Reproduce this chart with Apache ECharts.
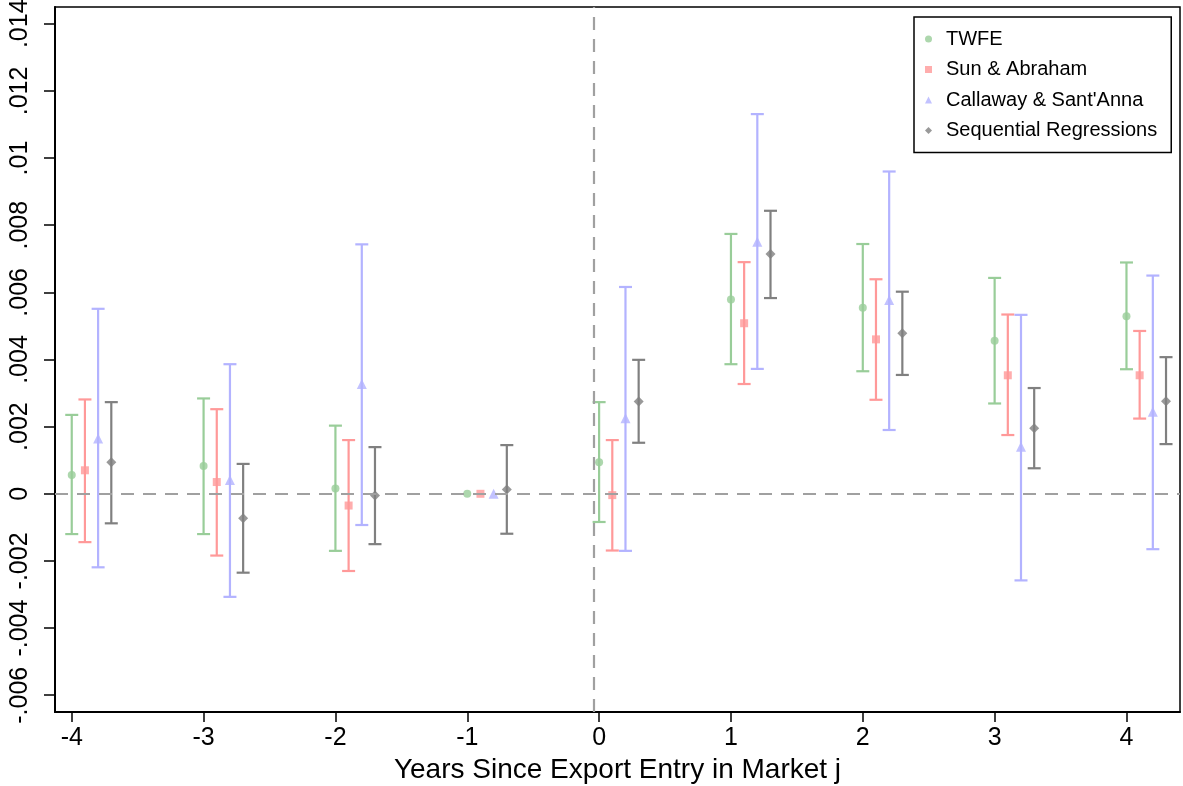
<!DOCTYPE html>
<html>
<head>
<meta charset="utf-8">
<script src="https://cdn.jsdelivr.net/npm/echarts@6/dist/echarts.min.js"></script>
<style>
html,body{margin:0;padding:0;background:#fff;}
#chart{width:1183px;height:786px;}
</style>
</head>
<body>
<div id="chart"></div>
<script>
// ---- data ----
const events = [-4, -3, -2, -1, 0, 1, 2, 3, 4];
const yTicks = [-0.006, -0.004, -0.002, 0, 0.002, 0.004, 0.006, 0.008, 0.01, 0.012, 0.014];

const twfe   = [0.00056, 0.00083, 0.00016, 0, 0.00094, 0.00579, 0.00554, 0.00456, 0.00529];
const twfeLo = [-0.0012, -0.0012, -0.0017, null, -0.00084, 0.00386, 0.00365, 0.00269, 0.00371];
const twfeHi = [0.00235, 0.00284, 0.00203, null, 0.00273, 0.00774, 0.00744, 0.00643, 0.00689];

const sa   = [0.0007, 0.00035, -0.00035, 0, -0.00004, 0.00508, 0.0046, 0.00353, 0.00353];
const saLo = [-0.00144, -0.00184, -0.0023, null, -0.00169, 0.00327, 0.0028, 0.00175, 0.00224];
const saHi = [0.00281, 0.00252, 0.0016, null, 0.0016, 0.0069, 0.00639, 0.00534, 0.00485];

const cs   = [0.00165, 0.00041, 0.00327, 0, 0.00225, 0.00751, 0.00577, 0.0014, 0.00244];
const csLo = [-0.00219, -0.00307, -0.00093, null, -0.0017, 0.00372, 0.0019, -0.00258, -0.00165];
const csHi = [0.00551, 0.00386, 0.00743, null, 0.00616, 0.01131, 0.0096, 0.00533, 0.0065];

const seq   = [0.00094, -0.00073, -0.00005, 0.00013, 0.00275, 0.00714, 0.00478, 0.00195, 0.00276];
const seqLo = [-0.00088, -0.00235, -0.0015, -0.00119, 0.00152, 0.00583, 0.00354, 0.00076, 0.00148];
const seqHi = [0.00273, 0.00089, 0.00139, 0.00145, 0.00399, 0.00843, 0.00602, 0.00315, 0.00407];

const methods = [
  {name: 'TWFE', est: twfe, lo: twfeLo, hi: twfeHi, off: 0, color: '#99cd99', symbol: 'circle', size: 8},
  {name: 'Sun & Abraham', est: sa, lo: saLo, hi: saHi, off: 0.1, color: '#ff9999', symbol: 'rect', size: 8},
  {name: "Callaway & Sant'Anna", est: cs, lo: csLo, hi: csHi, off: 0.2, color: '#b3b3ff', symbol: 'triangle', size: 10},
  {name: 'Sequential Regressions', est: seq, lo: seqLo, hi: seqHi, off: 0.3, color: '#808080', symbol: 'diamond', size: 10}
];

const FONT = 'Liberation Sans, Arial, sans-serif';

function yFmt(v) {
  if (Math.abs(v) < 1e-12) return '0';
  const s = parseFloat(Math.abs(v).toFixed(4)).toString().replace(/^0/, '');
  return (v < 0 ? '-' : '') + s;
}

const series = [];
// reference dashed lines
series.push({
  type: 'line', data: [], silent: true, z: 1,
  markLine: {
    silent: true, symbol: ['none', 'none'], label: {show: false},
    lineStyle: {color: '#a0a0a0', width: 2.2, type: [13, 9]},
    data: [{yAxis: 0}, {xAxis: -0.035}]
  }
});

methods.forEach(m => {
  const barData = [];
  events.forEach((e, i) => {
    if (m.lo[i] != null && m.hi[i] != null) barData.push([e + m.off, m.lo[i], m.hi[i]]);
  });
  series.push({
    type: 'custom', name: m.name + ' CI', silent: true, z: 2,
    data: barData,
    encode: {x: 0, y: [1, 2]},
    renderItem: function (params, api) {
      const x = api.value(0);
      const p1 = api.coord([x, api.value(1)]);
      const p2 = api.coord([x, api.value(2)]);
      const w = 6.5;
      const st = {stroke: m.color, lineWidth: 2.2};
      return {type: 'group', children: [
        {type: 'line', shape: {x1: p1[0], y1: p1[1], x2: p2[0], y2: p2[1]}, style: st},
        {type: 'line', shape: {x1: p1[0] - w, y1: p1[1], x2: p1[0] + w, y2: p1[1]}, style: st},
        {type: 'line', shape: {x1: p2[0] - w, y1: p2[1], x2: p2[0] + w, y2: p2[1]}, style: st}
      ]};
    }
  });
  series.push({
    type: 'scatter', name: m.name, z: 3,
    symbol: m.symbol, symbolSize: m.size,
    itemStyle: {color: m.color},
    data: events.map((e, i) => [e + m.off, m.est[i]])
  });
});

const chart = echarts.init(document.getElementById('chart'), null, {renderer: 'canvas'});
chart.setOption({
  animation: false,
  backgroundColor: '#fff',
  grid: {left: 55, right: 3, top: 7, bottom: 74, show: true, borderColor: '#000', borderWidth: 1.5,
    backgroundColor: 'transparent', outerBoundsMode: 'none', containLabel: false},
  legend: {
    orient: 'vertical', left: 914, top: 17,
    data: methods.map(m => ({name: m.name, icon: m.symbol})),
    itemWidth: 7, itemHeight: 7, itemGap: 10.5,
    padding: [12, 14, 12, 11],
    borderColor: '#000', borderWidth: 1.5, backgroundColor: '#fff',
    textStyle: {fontFamily: FONT, fontSize: 20, color: '#000', lineHeight: 20, padding: [0, 0, 0, 9]}
  },
  xAxis: {
    type: 'value', min: -4.127, max: 4.406,
    name: 'Years Since Export Entry in Market j', nameLocation: 'middle', nameGap: 40,
    nameTextStyle: {fontFamily: FONT, fontSize: 28, color: '#000', verticalAlign: 'top'},
    splitLine: {show: false},
    axisLine: {onZero: false, lineStyle: {color: '#000', width: 2}},
    axisTick: {customValues: events, length: 10, lineStyle: {color: '#000', width: 1.5}},
    axisLabel: {customValues: events, fontFamily: FONT, fontSize: 25, color: '#000', margin: 14,
      formatter: v => String(Math.round(v))}
  },
  yAxis: {
    type: 'value', min: -0.0065, max: 0.0145,
    splitLine: {show: false},
    axisLine: {onZero: false, lineStyle: {color: '#000', width: 2}},
    axisTick: {customValues: yTicks, length: 11, lineStyle: {color: '#000', width: 1.5}},
    axisLabel: {customValues: yTicks, rotate: 90, fontFamily: FONT, fontSize: 25, color: '#000', margin: 22,
      formatter: yFmt}
  },
  series: series
});
</script>
</body>
</html>
